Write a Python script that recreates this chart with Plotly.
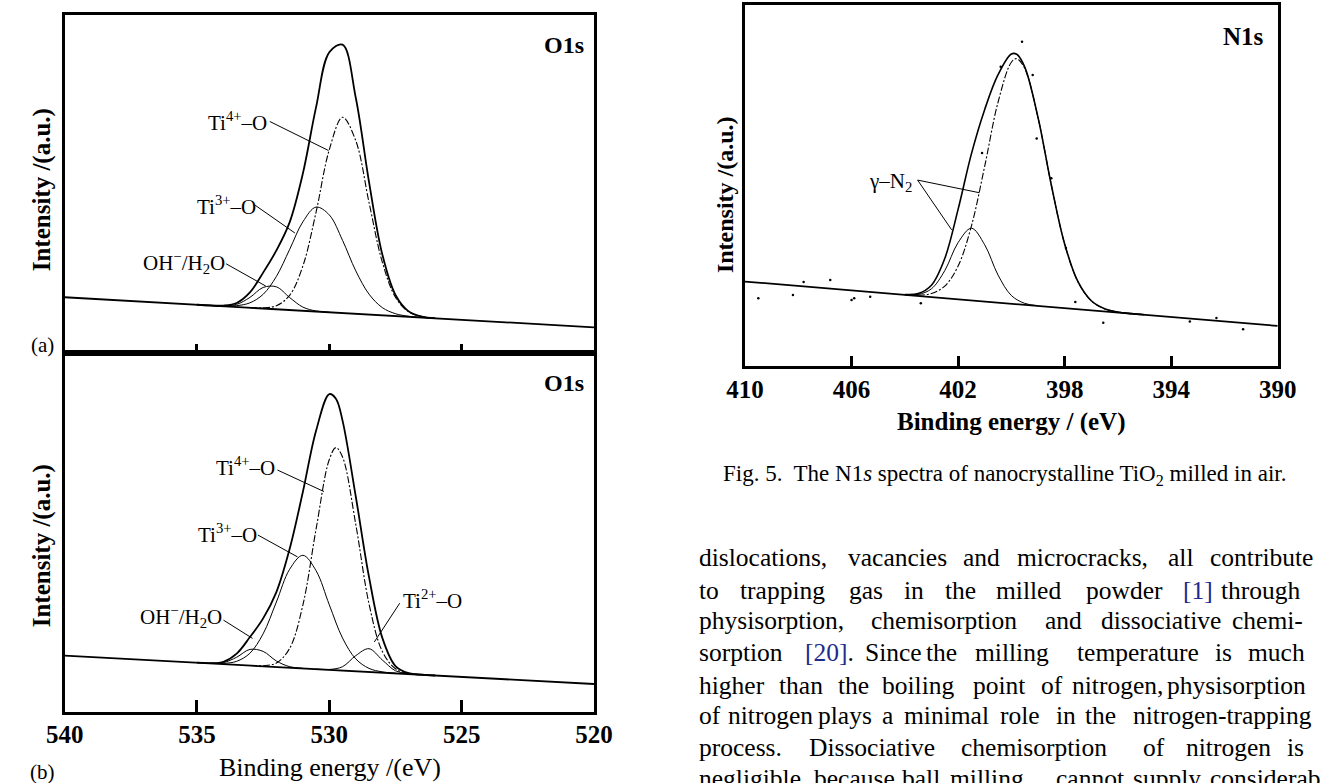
import plotly.graph_objects as go

W, H = 1321, 783
SERIF = "Liberation Serif"

# ---------------- Panel (a): O1s (energy in eV, intensity in a.u. 0-100) ----------------
a_grid = [535.0, 534.5, 534.0, 533.5, 533.0, 532.5, 532.0, 531.5, 531.0, 530.5,
          530.0, 529.5, 529.0, 528.5, 528.0, 527.5, 527.0, 526.5, 526.0]
a_envelope = [14.28, 14.08, 14.02, 14.79, 17.91, 23.78, 30.34, 38.65, 53.08, 72.73,
              88.96, 91.23, 75.51, 50.62, 29.24, 17.17, 12.31, 10.79, 10.31]
a_base_E = [540.0, 520.0]
a_base = [16.5, 7.6]
a_ti4_E = [533.0, 532.5, 532.0, 531.5, 531.0, 530.5, 530.0, 529.5, 529.0, 528.5,
           528.0, 527.5, 527.0, 526.5, 526.0]
a_ti4 = [13.41, 13.35, 13.99, 17.05, 25.70, 41.67, 60.15, 69.73, 62.81, 44.58,
         26.96, 16.49, 12.15, 10.76, 10.31]
a_ti3_E = [534.5, 534.0, 533.5, 533.0, 532.5, 532.0, 531.5, 531.0, 530.5, 530.0,
           529.5, 529.0, 528.5, 528.0, 527.5, 527.0, 526.5]
a_ti3 = [14.07, 13.92, 14.01, 14.84, 17.36, 22.65, 30.62, 38.80, 43.17, 40.85,
         33.33, 24.31, 17.42, 13.44, 11.62, 10.88, 10.52]
a_oh_E = [534.5, 534.0, 533.5, 533.0, 532.5, 532.0, 531.5, 531.0, 530.5, 530.0]
a_oh = [14.06, 13.93, 14.39, 16.44, 19.39, 19.58, 16.42, 13.58, 12.43, 12.06]

# ---------------- Panel (b): O1s ----------------
b_grid = [535.0, 534.5, 534.0, 533.5, 533.0, 532.5, 532.0, 531.5, 531.0, 530.5,
          530.0, 529.75, 529.5, 529.0, 528.5, 528.0, 527.5, 527.0, 526.5, 526.0]
b_envelope = [13.73, 13.61, 13.99, 16.25, 20.87, 26.09, 33.41, 45.39, 61.27, 78.35,
              88.55, 87.27, 81.17, 60.03, 37.62, 20.71, 12.79, 10.80, 10.39, 10.17]
b_base_E = [540.0, 520.0]
b_base = [15.7, 7.8]
b_ti4_E = [533.0, 532.5, 532.0, 531.5, 531.0, 530.5, 530.0, 529.75, 529.5, 529.0,
           528.5, 528.0, 527.5, 527.0, 526.5]
b_ti4 = [12.95, 12.90, 13.64, 17.70, 29.75, 50.95, 70.35, 73.65, 71.05, 52.26,
         30.16, 16.94, 12.03, 10.75, 10.39]
b_ti3_E = [534.5, 534.0, 533.5, 533.0, 532.5, 532.0, 531.5, 531.0, 530.5, 530.0,
           529.5, 529.0, 528.5, 528.0, 527.5]
b_ti3 = [13.57, 13.55, 14.12, 16.37, 21.79, 30.64, 39.74, 43.65, 39.35, 29.85,
         20.60, 14.79, 12.15, 11.18, 10.80]
b_oh_E = [534.5, 534.0, 533.5, 533.0, 532.5, 532.0, 531.5, 531.0]
b_oh = [13.57, 13.77, 15.26, 17.43, 16.88, 14.21, 12.63, 12.17]
b_ti2_E = [530.5, 530.0, 529.5, 529.0, 528.5, 528.0, 527.5, 527.0]
b_ti2 = [11.95, 11.85, 12.62, 15.70, 17.63, 14.51, 11.48, 10.62]

# ---------------- Panel N1s ----------------
n_grid = [404.0, 403.5, 403.0, 402.5, 402.0, 401.5, 401.0, 400.5, 400.0, 399.8,
          399.5, 399.0, 398.5, 398.0, 397.5, 397.0, 396.5, 396.0, 395.5, 395.0]
n_envelope = [19.81, 20.06, 22.37, 29.77, 43.38, 58.77, 71.07, 80.69, 86.43, 86.36,
              82.86, 68.89, 50.13, 33.82, 23.35, 18.07, 15.86, 14.96, 14.51, 14.18]
n_base_E = [410.0, 390.0]
n_base = [23.4, 11.1]
n_main_E = [404.0, 403.5, 403.0, 402.5, 402.0, 401.5, 401.0, 400.5, 400.0, 399.8,
            399.5, 399.0, 398.5, 398.0, 397.5, 397.0, 396.5, 396.0, 395.5]
n_main = [19.76, 19.64, 20.09, 22.14, 27.68, 38.77, 55.37, 73.06, 84.15, 85.13,
          82.44, 68.84, 50.13, 33.82, 23.35, 18.07, 15.86, 14.96, 14.51]
n_small_E = [404.0, 403.5, 403.0, 402.5, 402.0, 401.5, 401.0, 400.5, 400.0, 399.5, 399.0]
n_small = [19.76, 19.82, 21.38, 26.42, 34.18, 38.17, 33.57, 25.19, 19.53, 17.36, 16.69]
n_dot_E = [399.6, 399.2, 400.4, 401.1, 399.05, 398.5, 397.95, 397.6, 409.5, 408.2,
           406.8, 405.9, 403.4, 407.8, 396.55, 393.3, 392.3, 391.3, 406.0, 405.3]
n_dot_v = [89.8, 80.6, 82.9, 59.0, 63.0, 52.0, 32.7, 17.7, 18.8, 19.7,
           23.8, 18.8, 17.4, 23.3, 12.0, 12.3, 13.3, 10.2, 18.3, 19.2]

o1s_ticks = [540, 535, 530, 525, 520]
n1s_ticks = [410, 406, 402, 398, 394, 390]

REF = "<span style='color:#1e2a8c'>{}</span>"
# body text words: (text, x px)
body_lines = [
    [("dislocations,", 698), ("vacancies", 852), ("and", 970), ("microcracks,", 1025), ("all", 1181), ("contribute", 1224)],
    [("to", 698), ("trapping", 740), ("gas", 853), ("in", 909), ("the", 951), ("milled", 1004), ("powder", 1097),
     (REF.format("[1]"), 1196), ("through", 1236)],
    [("physisorption,", 698), ("chemisorption", 875), ("and", 1054), ("dissociative", 1112), ("chemi-", 1247)],
    [("sorption", 698), (REF.format("[20]") + ".", 807), ("Since", 869), ("the", 932), ("milling", 982),
     ("temperature", 1087), ("is", 1229), ("much", 1263)],
    [("higher", 698), ("than", 780), ("the", 841), ("boiling", 887), ("point", 980), ("of", 1050), ("nitrogen,", 1082),
     ("physisorption", 1180)],
    [("of", 698), ("nitrogen", 728), ("plays", 821), ("a", 887), ("minimal", 909), ("role", 1008), ("in", 1066),
     ("the", 1096), ("nitrogen-trapping", 1145)],
    [("process.", 698), ("Dissociative", 811), ("chemisorption", 968), ("of", 1155), ("nitrogen", 1199), ("is", 1304)],
    [("negligible,", 698), ("because", 816), ("ball", 907), ("milling", 957), ("cannot", 1066), ("supply", 1145),
     ("considerable", 1224)],
]
body_y = [557, 590, 620, 652, 685, 715, 747, 778]


def px(x):
    return x / W


def py(y):
    return 1 - y / H


fig = go.Figure()
blk = "black"


def add_line(xs, ys, xa, ya, width=1.1, dash="solid", shape="spline"):
    fig.add_trace(go.Scatter(x=xs, y=ys, xaxis=xa, yaxis=ya, mode="lines",
                             line=dict(color=blk, width=width, dash=dash, shape=shape, smoothing=1.0),
                             hoverinfo="skip", showlegend=False))


DD = "7px,2px,2px,2px"
# panel a
add_line(a_base_E, a_base, "x", "y", width=1.8, shape="linear")
add_line(a_oh_E, a_oh, "x", "y", width=1.0)
add_line(a_ti3_E, a_ti3, "x", "y", width=1.0)
add_line(a_ti4_E, a_ti4, "x", "y", width=1.1, dash=DD)
add_line(a_grid, a_envelope, "x", "y", width=1.8)
# panel b
add_line(b_base_E, b_base, "x2", "y2", width=1.8, shape="linear")
add_line(b_oh_E, b_oh, "x2", "y2", width=1.0)
add_line(b_ti2_E, b_ti2, "x2", "y2", width=1.0)
add_line(b_ti3_E, b_ti3, "x2", "y2", width=1.0)
add_line(b_ti4_E, b_ti4, "x2", "y2", width=1.1, dash=DD)
add_line(b_grid, b_envelope, "x2", "y2", width=1.8)
# N1s
add_line(n_base_E, n_base, "x3", "y3", width=1.8, shape="linear")
add_line(n_small_E, n_small, "x3", "y3", width=1.0)
add_line(n_main_E, n_main, "x3", "y3", width=1.1, dash=DD)
add_line(n_grid, n_envelope, "x3", "y3", width=1.6)
fig.add_trace(go.Scatter(x=n_dot_E, y=n_dot_v, xaxis="x3", yaxis="y3", mode="markers",
                         marker=dict(color=blk, size=2.5), hoverinfo="skip", showlegend=False))

frame = dict(showline=True, linecolor=blk, mirror=True, showgrid=False, zeroline=False)
tickfont = dict(family=SERIF, size=25, color=blk, weight="bold")

fig.update_layout(
    width=W, height=H, autosize=False,
    margin=dict(l=0, r=0, t=0, b=0),
    paper_bgcolor="white", plot_bgcolor="white",
    xaxis=dict(domain=[px(47), px(592)], range=[540, 520], anchor="y", linewidth=3,
               ticks="inside", ticklen=9, tickwidth=2.5, tickcolor=blk, tickvals=o1s_ticks,
               showticklabels=False, **frame),
    yaxis=dict(domain=[py(353), py(15)], range=[0, 100], anchor="x", linewidth=3,
               showticklabels=False, ticks="", **frame),
    xaxis2=dict(domain=[px(47), px(592)], range=[540, 520], anchor="y2", linewidth=3,
                ticks="inside", ticklen=12, tickwidth=2.5, tickcolor=blk, tickvals=o1s_ticks,
                ticktext=[str(t) for t in o1s_ticks], tickfont=tickfont, ticklabelstandoff=-2, **frame),
    yaxis2=dict(domain=[py(712), py(353)], range=[0, 100], anchor="x2", linewidth=3,
                showticklabels=False, ticks="", **frame),
    xaxis3=dict(domain=[px(747.5), px(1296)], range=[410, 390], anchor="y3", linewidth=2.6,
                ticks="inside", ticklen=10, tickwidth=2.5, tickcolor=blk, tickvals=n1s_ticks,
                ticktext=[str(t) for t in n1s_ticks], tickfont=tickfont, ticklabelstandoff=-1, **frame),
    yaxis3=dict(domain=[py(366), py(5)], range=[0, 100], anchor="x3", linewidth=2.6,
                showticklabels=False, ticks="", **frame),
)

ann = []


def text_px(t, x, y, size, bold=False, xanchor="center", yanchor="middle", angle=0):
    ann.append(dict(text=t, x=px(x), y=py(y), xref="paper", yref="paper", showarrow=False,
                    xanchor=xanchor, yanchor=yanchor, textangle=angle,
                    font=dict(family=SERIF, size=size, color=blk,
                              weight="bold" if bold else "normal"), borderpad=0))


def text_data(t, x, y, xr, yr, size, xanchor="center"):
    ann.append(dict(text=t, x=x, y=y, xref=xr, yref=yr, showarrow=False, xanchor=xanchor,
                    yanchor="middle", font=dict(family=SERIF, size=size, color=blk), borderpad=0))


# panel labels
text_px("O1s", 583, 45, 24, bold=True, xanchor="right")
text_px("O1s", 583, 383, 24, bold=True, xanchor="right")
text_px("N1s", 1283, 37, 25, bold=True, xanchor="right")
text_px("(a)", 24, 345, 21)
text_px("(b)", 24, 772, 21)
text_px("Intensity /(a.u.)", 24, 190, 25, bold=True, angle=-90)
text_px("Intensity /(a.u.)", 24, 546, 25, bold=True, angle=-90)
text_px("Intensity /(a.u.)", 727, 195, 24, bold=True, angle=-90)
text_px("Binding energy /(eV)", 320, 767, 26)
text_px("Binding energy / (eV)", 1021, 422, 25, bold=True)
ann.append(dict(text="Fig. 5.  The N1<i>s</i> spectra of nanocrystalline TiO<sub>2</sub> milled in air.",
                x=px(1015), y=py(475), xref="paper", yref="paper", showarrow=False,
                xanchor="center", yanchor="middle", font=dict(family=SERIF, size=23, color=blk)))

for words, yy in zip(body_lines, body_y):
    for w, xx in words:
        ann.append(dict(text=w, x=px(xx), y=py(yy), xref="paper", yref="paper", showarrow=False,
                        xanchor="left", yanchor="middle", font=dict(family=SERIF, size=25.5, color=blk)))

# component labels (energy, intensity)
lab_a = [("Ti<sup>4+</sup>–O", 533.45, 68.5), ("Ti<sup>3+</sup>–O", 533.9, 43.7), ("OH<sup>−</sup>/H<sub>2</sub>O", 535.5, 26.9)]
lab_b = [("Ti<sup>4+</sup>–O", 533.15, 68.3), ("Ti<sup>3+</sup>–O", 533.85, 49.8), ("OH<sup>−</sup>/H<sub>2</sub>O", 535.6, 26.5),
         ("Ti<sup>2+</sup>–O", 526.1, 31.2)]
lab_n = [("γ–N<sub>2</sub>", 404.55, 51.0)]
for t, e, v in lab_a:
    text_data(t, e, v, "x", "y", 21)
for t, e, v in lab_b:
    text_data(t, e, v, "x2", "y2", 21)
for t, e, v in lab_n:
    text_data(t, e, v, "x3", "y3", 21)

lead_a = [(532.25, 68.5, 530.03, 59.9), (532.8, 43.7, 531.3, 35.5), (533.9, 26.4, 532.4, 19.8)]
lead_b = [(531.96, 67.4, 530.2, 61.4), (532.7, 49.3, 531.2, 43.2), (534.0, 25.6, 532.9, 20.5), (527.34, 30.3, 528.3, 19.5)]
lead_n = [(403.52, 51.5, 401.2, 48.0), (403.52, 51.5, 402.24, 37.7)]
shapes = []
for leads, xr, yr in ((lead_a, "x", "y"), (lead_b, "x2", "y2"), (lead_n, "x3", "y3")):
    for x0, y0, x1, y1 in leads:
        shapes.append(dict(type="line", xref=xr, yref=yr, x0=x0, y0=y0, x1=x1, y1=y1,
                           line=dict(color=blk, width=1)))

fig.update_layout(annotations=ann, shapes=shapes)

fig.write_html("out.html", config={"displayModeBar": False},
               post_script="document.body.style.margin='0';document.body.style.padding='0';")
